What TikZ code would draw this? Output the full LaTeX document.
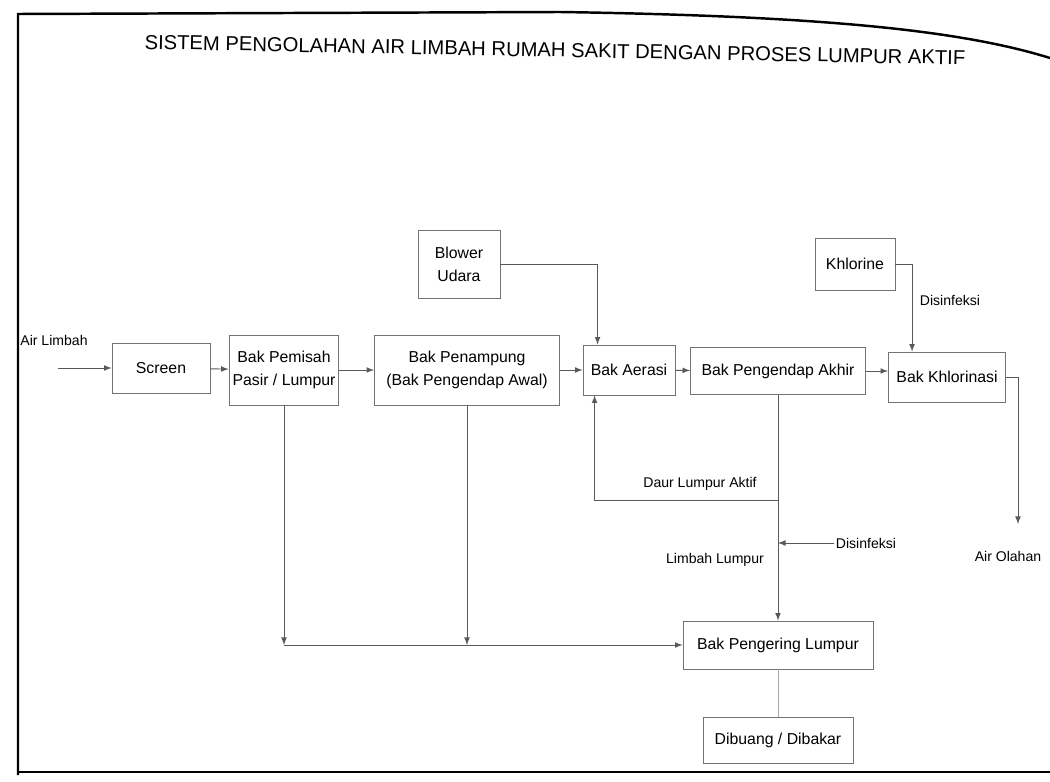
\documentclass[tikz,border=0pt]{standalone}
\usepackage{fontspec}
\setmainfont{Liberation Sans}
\usepackage{tikz}

\tikzset{
	box/.style={draw=black!55, line width=0.5pt, minimum height=1cm, align=center, inner sep=2pt, font=\fontsize{9}{13}\selectfont},
	lbl/.style={font=\fontsize{8}{10}\selectfont, inner sep=1pt},
	flow/.style={draw=black!65, line width=0.5pt, -latex}
}

\begin{document}
\begin{tikzpicture}[x=0.2mm, y=-0.2mm]
		\useasboundingbox (0,0) rectangle (1050,782);
		% page edge
		\draw[line width=1.4pt] (18,775) -- (18,14) -- (560,12) .. controls (820,16) and (960,30) .. (1050,58);
		\draw[line width=1.6pt] (18,772) -- (1050,772);
		\node[font=\fontsize{11.5}{14}\selectfont, rotate=-1.1](judul) at (555,50) {SISTEM PENGOLAHAN AIR LIMBAH RUMAH SAKIT DENGAN PROSES LUMPUR AKTIF};
		% main line
		\node[lbl](inlet) at (54,340) {Air Limbah};
		\node[box, minimum width=1.96cm](screen) at (161,368) {Screen};
		\node[box, minimum width=2cm, minimum height=1.4cm](pemisah) at (284,370) {Bak Pemisah\\Pasir / Lumpur};
		\node[box, minimum width=3.7cm, minimum height=1.4cm](penampung) at (467,370) {Bak Penampung\\(Bak Pengendap Awal)};
		\node[box, minimum width=1.84cm](aerasi) at (629,370) {Bak Aerasi};
		\node[box, minimum width=3.5cm, minimum height=0.94cm](akhir) at (778,371) {Bak Pengendap Akhir};
		\node[box, minimum width=2.34cm](khlor) at (947,377) {Bak Khlorinasi};
		\node[box, minimum width=1.64cm, minimum height=1.36cm](blower) at (459,264) {Blower\\Udara};
		\node[box, minimum width=1.6cm, minimum height=1.04cm](khlorine) at (855,264) {Khlorine};
		\node[lbl](desinf) at (950,300) {Disinfeksi};
		\node[lbl](daur) at (700,484) {Daur Lumpur Aktif};
		\node[lbl](limbah) at (715,560) {Limbah Lumpur};
		\node[lbl](desinf2) at (866,543) {Disinfeksi};
		\node[box, minimum width=3.8cm, minimum height=0.96cm](pengering) at (778,645) {Bak Pengering Lumpur};
		\node[box, minimum width=3cm, minimum height=0.92cm](dibuang) at (778,740) {Dibuang / Dibakar};
		\node[lbl](olahan) at (1008,556) {Air Olahan};
		\coordinate (masuk) at (58,368);
		\coordinate (keluar) at (1018,524);
		\coordinate (balik) at (778,500);

		\draw[flow] (masuk) -- (screen);
		\draw[flow] (screen) -- (pemisah);
		\draw[flow] (pemisah) -- (penampung);
		\draw[flow] (penampung) -- (aerasi);
		\draw[flow] (aerasi) -- (akhir);
		\draw[flow] (akhir.east) -- (akhir.east -| khlor.west);
		\draw[flow] (khlor.east) -| (keluar);
		\draw[flow] (blower.east) -| ([xshift=0.3cm]aerasi.north west);
		\draw[flow] (khlorine.east) -| ([xshift=0.48cm]khlor.north west);
		\draw[flow] (balik) -| ([xshift=0.24cm]aerasi.south west);
		\draw[flow] (akhir.south) -- (pengering.north);
		\draw[flow] (desinf2.west) -- (desinf2.west -| akhir.south);
		\draw[flow] (pemisah.south) -- (pemisah.south |- pengering.west);
		\draw[flow] (penampung.south) -- (penampung.south |- pengering.west);
		\draw[flow] (pemisah.south |- pengering.west) -- (pengering.west);
		\draw[draw=black!35] (pengering) -- (dibuang);
	\end{tikzpicture}
\end{document}
